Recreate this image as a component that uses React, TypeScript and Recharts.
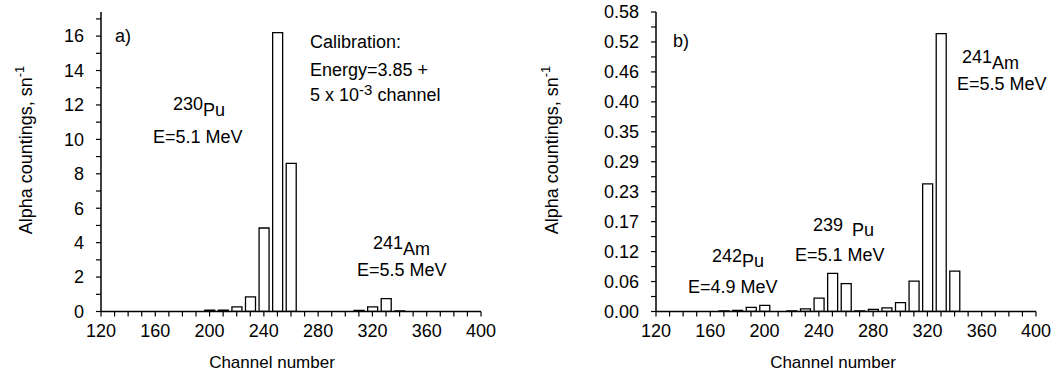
import React from 'react';
import { BarChart, Bar, XAxis, YAxis } from 'recharts';

// panel a) : 230Pu tracer + 241Am
const channelsA = [200, 210, 220, 230, 240, 250, 260, 310, 320, 330, 340];
const countsA = [0.08, 0.08, 0.27, 0.85, 4.85, 16.2, 8.6, 0.07, 0.27, 0.75, 0.04];

// panel b) : 242Pu, 239Pu, 241Am
const channelsB = [170, 180, 190, 200, 220, 230, 240, 250, 260, 270, 280, 290, 300, 310, 320, 330, 340];
const countsB = [0.001, 0.002, 0.008, 0.012, 0.001, 0.005, 0.026, 0.074, 0.054, 0.001, 0.004, 0.007, 0.017, 0.059, 0.247, 0.538, 0.078];

const xTickLabels = ['120', '160', '200', '240', '280', '320', '360', '400'];
const yTickLabelsA = ['0', '2', '4', '6', '8', '10', '12', '14', '16'];
const yTickLabelsB = ['0.00', '0.06', '0.12', '0.17', '0.23', '0.29', '0.35', '0.40', '0.46', '0.52', '0.58'];

const FONT = '"Liberation Sans", Arial, Helvetica, sans-serif';

const xTicks = Array.from({ length: 29 }, (_, i) => 120 + 10 * i);
const yTicksA = Array.from({ length: 18 }, (_, i) => i);
const yTicksB = Array.from({ length: 21 }, (_, i) => (i * 0.58) / 20);

const fmtX = (v: number) => (xTickLabels.includes(String(v)) ? String(v) : '');
const fmtA = (_v: number, i: number) => (i % 2 === 0 ? yTickLabelsA[i / 2] ?? '' : '');
const fmtB = (_v: number, i: number) => (i % 2 === 0 ? yTickLabelsB[i / 2] ?? '' : '');

const axisLine = { stroke: '#000', strokeWidth: 1.5 };
const tickLine = { stroke: '#000', strokeWidth: 1.2 };
const tickStyle = { fill: '#000', fontSize: 18, fontFamily: FONT };

type PanelProps = {
  channels: number[];
  counts: number[];
  yMax: number;
  yTicks: number[];
  yFmt: (v: number, i: number) => string;
  yWidth: number;
  marginRight: number;
};

function Panel({ channels, counts, yMax, yTicks, yFmt, yWidth, marginRight }: PanelProps) {
  const data = channels.map((ch, i) => ({ ch, count: counts[i] }));
  return (
    <BarChart width={530} height={385} data={data} margin={{ top: 12, right: marginRight, bottom: 0, left: 0 }}>
      <XAxis
        xAxisId="b"
        type="number"
        dataKey="ch"
        domain={[120, 400]}
        ticks={xTicks}
        interval={0}
        tickFormatter={fmtX}
        tickSize={5}
        tickMargin={8}
        axisLine={axisLine}
        tickLine={tickLine}
        tick={tickStyle}
        height={73.5}
        allowDataOverflow
      />
      <XAxis
        xAxisId="t"
        orientation="top"
        type="number"
        dataKey="ch"
        domain={[120, 400]}
        ticks={xTicks}
        interval={0}
        tickFormatter={() => ''}
        mirror
        tickSize={4}
        axisLine={axisLine}
        tickLine={tickLine}
        height={0}
        allowDataOverflow
      />
      <YAxis
        yAxisId="l"
        type="number"
        domain={[0, yMax]}
        ticks={yTicks}
        interval={0}
        tickFormatter={yFmt}
        tickSize={5}
        tickMargin={12}
        axisLine={axisLine}
        tickLine={tickLine}
        tick={tickStyle}
        width={yWidth}
        allowDataOverflow
      />
      <YAxis
        yAxisId="r"
        orientation="right"
        type="number"
        domain={[0, yMax]}
        ticks={yTicks}
        interval={0}
        tickFormatter={() => ''}
        mirror
        tickSize={4}
        axisLine={axisLine}
        tickLine={tickLine}
        width={0}
        allowDataOverflow
      />
      <Bar xAxisId="b" yAxisId="l" dataKey="count" fill="#fff" stroke="#000" strokeWidth={1.3} barSize={10} isAnimationActive={false} />
    </BarChart>
  );
}

const txt = { fontFamily: FONT, fontSize: 18, fill: '#000' } as const;

export default function App() {
  return (
    <div style={{ position: 'absolute', left: 0, top: 0, width: 1060, height: 385, background: '#fff' }}>
      <div style={{ position: 'absolute', left: 0, top: 0 }}>
        <Panel channels={channelsA} counts={countsA} yMax={17.4} yTicks={yTicksA} yFmt={fmtA} yWidth={101} marginRight={49} />
      </div>
      <div style={{ position: 'absolute', left: 530, top: 0 }}>
        <Panel channels={channelsB} counts={countsB} yMax={0.58} yTicks={yTicksB} yFmt={fmtB} yWidth={126} marginRight={24} />
      </div>
      <svg width={1060} height={385} style={{ position: 'absolute', left: 0, top: 0, pointerEvents: 'none' }}>
        {/* axis titles */}
        <text {...txt} transform="translate(32,150) rotate(-90)" textAnchor="middle">
          Alpha countings, sn<tspan fontSize={13} dy={-8}>-1</tspan>
        </text>
        <text {...txt} transform="translate(558,150) rotate(-90)" textAnchor="middle">
          Alpha countings, sn<tspan fontSize={13} dy={-8}>-1</tspan>
        </text>
        <text {...txt} fontSize={17} x={272} y={368} textAnchor="middle">Channel number</text>
        <text {...txt} fontSize={17} x={833} y={368} textAnchor="middle">Channel number</text>

        {/* panel a */}
        <text {...txt} x={115} y={42}>a)</text>
        <text {...txt} x={310} y={48}>Calibration:</text>
        <text {...txt} x={310} y={76}>Energy=3.85 +</text>
        <text {...txt} x={310} y={101}>
          5 x 10<tspan fontSize={15} dy={-6}>-3</tspan><tspan dy={6}> channel</tspan>
        </text>
        <text {...txt} x={173} y={110}>230<tspan dy={6}>Pu</tspan></text>
        <text {...txt} x={153} y={143}>E=5.1 MeV</text>
        <text {...txt} x={373} y={249}>241<tspan dy={6}>Am</tspan></text>
        <text {...txt} x={357} y={276}>E=5.5 MeV</text>

        {/* panel b */}
        <text {...txt} x={673} y={47}>b)</text>
        <rect x={955} y={44} width={90} height={50} fill="#fff" />
        <text {...txt} x={962} y={63}>241<tspan dy={6}>Am</tspan></text>
        <text {...txt} x={957} y={90}>E=5.5 MeV</text>
        <text {...txt} x={813} y={231}>239<tspan x={852} dy={5}>Pu</tspan></text>
        <text {...txt} x={795} y={261}>E=5.1 MeV</text>
        <text {...txt} x={712} y={262}>242<tspan dy={5}>Pu</tspan></text>
        <text {...txt} x={688} y={293}>E=4.9 MeV</text>
      </svg>
    </div>
  );
}
